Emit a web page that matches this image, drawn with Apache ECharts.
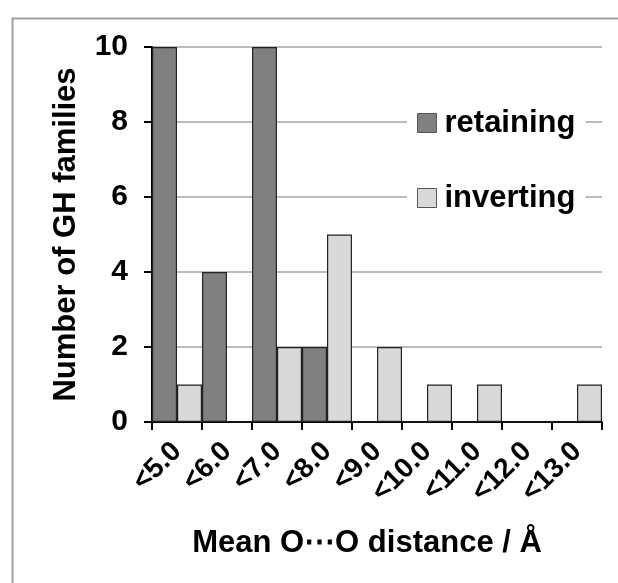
<!DOCTYPE html>
<html>
<head>
<meta charset="utf-8">
<script src="https://cdn.jsdelivr.net/npm/echarts@6/dist/echarts.min.js"></script>
<style>
html,body{margin:0;padding:0;background:#fff;}
#chart{width:618px;height:583px;}
</style>
</head>
<body>
<div id="chart"></div>
<script>
const categories = ['<5.0','<6.0','<7.0','<8.0','<9.0','<10.0','<11.0','<12.0','<13.0'];
const retaining = [10, 4, 10, 2, 0, 0, 0, 0, 0];
const inverting = [1, 0, 2, 5, 2, 1, 1, 0, 1];
const yTicks = [0, 2, 4, 6, 8, 10];

const FONT = 'Liberation Sans, Arial, sans-serif';
const chart = echarts.init(document.getElementById('chart'), null, {renderer: 'canvas'});
chart.setOption({
  animation: false,
  backgroundColor: '#fff',
  graphic: [{
    type: 'rect', left: 10, top: 16, z: -10,
    shape: {x: 0, y: 0, width: 800, height: 800},
    style: {fill: 'none', stroke: '#a0a0a0', lineWidth: 2}
  }],
  grid: {left: 152, right: 16, top: 47, bottom: 161, containLabel: false},
  legend: {
    data: ['retaining', 'inverting'],
    orient: 'vertical',
    left: 407, top: 104,
    padding: [3, 10, 3, 10],
    backgroundColor: '#fff',
    itemWidth: 19, itemHeight: 19, itemGap: 43,
    icon: 'rect',
    itemStyle: {borderColor: '#555', borderWidth: 1},
    textStyle: {fontFamily: FONT, fontWeight: 'bold', fontSize: 31, color: '#000', lineHeight: 32, padding: [0,0,0,3]}
  },
  xAxis: {
    type: 'category',
    data: categories,
    boundaryGap: true,
    name: 'Mean O\u22EFO distance / \u00C5',
    nameLocation: 'middle',
    nameGap: 106,
    nameTextStyle: {fontFamily: FONT, fontWeight: 'bold', fontSize: 31, color: '#000', padding: [0, 20, 0, 0]},
    axisLine: {lineStyle: {color: '#000', width: 2}},
    axisTick: {show: true, length: 8, lineStyle: {color: '#000', width: 2}},
    axisLabel: {rotate: 45, margin: 25, interval: 0, fontFamily: FONT, fontWeight: 'bold', fontSize: 28, color: '#000'},
    splitLine: {show: false}
  },
  yAxis: {
    type: 'value',
    min: 0, max: 10, interval: 2,
    name: 'Number of GH families',
    nameLocation: 'middle',
    nameGap: 70,
    nameTextStyle: {fontFamily: FONT, fontWeight: 'bold', fontSize: 31, color: '#000'},
    axisLine: {show: true, lineStyle: {color: '#000', width: 2}},
    axisTick: {show: true, length: 8, lineStyle: {color: '#000', width: 2}},
    axisLabel: {margin: 24, fontFamily: FONT, fontWeight: 'bold', fontSize: 30, color: '#000',
      formatter: v => yTicks.includes(v) ? String(v) : ''},
    splitLine: {show: true, lineStyle: {color: '#a6a6a6', width: 1.5}}
  },
  series: [
    {name: 'retaining', type: 'bar', data: retaining, barGap: '0%', barCategoryGap: '0%',
     itemStyle: {color: '#808080', borderColor: '#222', borderWidth: 1.2}},
    {name: 'inverting', type: 'bar', data: inverting, barGap: '0%', barCategoryGap: '0%',
     itemStyle: {color: '#d9d9d9', borderColor: '#222', borderWidth: 1.2}}
  ]
});
</script>
</body>
</html>
